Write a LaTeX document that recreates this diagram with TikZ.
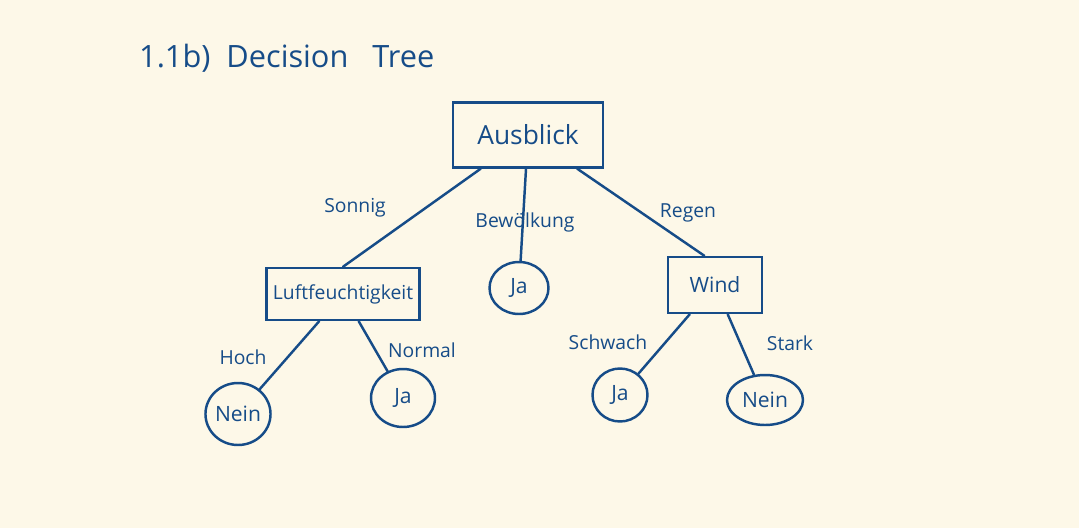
\documentclass[tikz,border=0pt]{standalone}
\usepackage{fontspec}
\setmainfont{Open Sans}
\usetikzlibrary{shapes.geometric}
\definecolor{ink}{RGB}{22,76,136}
\definecolor{paper}{RGB}{253,248,232}

\begin{document}
\begin{tikzpicture}[x=0.02cm, y=-0.02cm,
    ink line/.style = {draw=ink, line width=1.4pt, line cap=round},
    attr/.style = {ink line, rectangle, text=ink, font=\fontsize{15}{17}\selectfont},
    leaf/.style = {ink line, ellipse, inner sep=0pt, text=ink, font=\fontsize{12}{14}\selectfont},
    edgelabel/.style = {text=ink, font=\fontsize{11}{13}\selectfont}]
              \fill[paper] (0,0) rectangle (1079,528);
              \useasboundingbox (0,0) rectangle (1079,528);
              \node[text=ink, anchor=west, font=\fontsize{17.5}{20}\selectfont] (title) at (133,58) {1.1b)\ \ Decision\ \ \ Tree};
              % inner nodes
              \node[attr, minimum width=3cm, minimum height=1.3cm] (ausblick) at (528,135) {Ausblick};
              \node[attr, minimum width=3.06cm, minimum height=1.04cm, font=\fontsize{11}{13}\selectfont] (luft) at (343,294) {Luftfeuchtigkeit};
              \node[attr, minimum width=1.88cm, minimum height=1.12cm, font=\fontsize{12}{14}\selectfont] (wind) at (715,285) {Wind};
              % leaves
              \node[leaf, minimum width=1.18cm, minimum height=1.04cm] (jaB) at (519,288) {Ja};
              \node[leaf, minimum width=1.26cm, minimum height=1.24cm] (neinH) at (238,414) {Nein};
              \node[leaf, minimum width=1.28cm, minimum height=1.16cm] (jaN) at (403,398) {Ja};
              \node[leaf, minimum width=1.1cm, minimum height=1.06cm] (jaS) at (620,395) {Ja};
              \node[leaf, minimum width=1.52cm, minimum height=1.0cm] (neinS) at (765,400) {Nein};
              % edges
              \draw[ink line] (ausblick) -- (luft.north);
              \draw[ink line] (ausblick) -- (jaB);
              \draw[ink line] (ausblick) -- (wind.110);
              \draw[ink line] (luft) -- (neinH);
              \draw[ink line] (luft) -- (jaN);
              \draw[ink line] (wind) -- (jaS);
              \draw[ink line] (wind) -- (neinS);
              % edge labels
              \node[edgelabel] (sonnig) at (355,208) {Sonnig};
              \node[edgelabel] (bewoelkung) at (525,222) {Bewölkung};
              \node[edgelabel] (regen) at (688,213) {Regen};
              \node[edgelabel] (hoch) at (243,357) {Hoch};
              \node[edgelabel] (normal) at (422,350) {Normal};
              \node[edgelabel] (schwach) at (608,342) {Schwach};
              \node[edgelabel] (stark) at (790,343) {Stark};
          \end{tikzpicture}
\end{document}
